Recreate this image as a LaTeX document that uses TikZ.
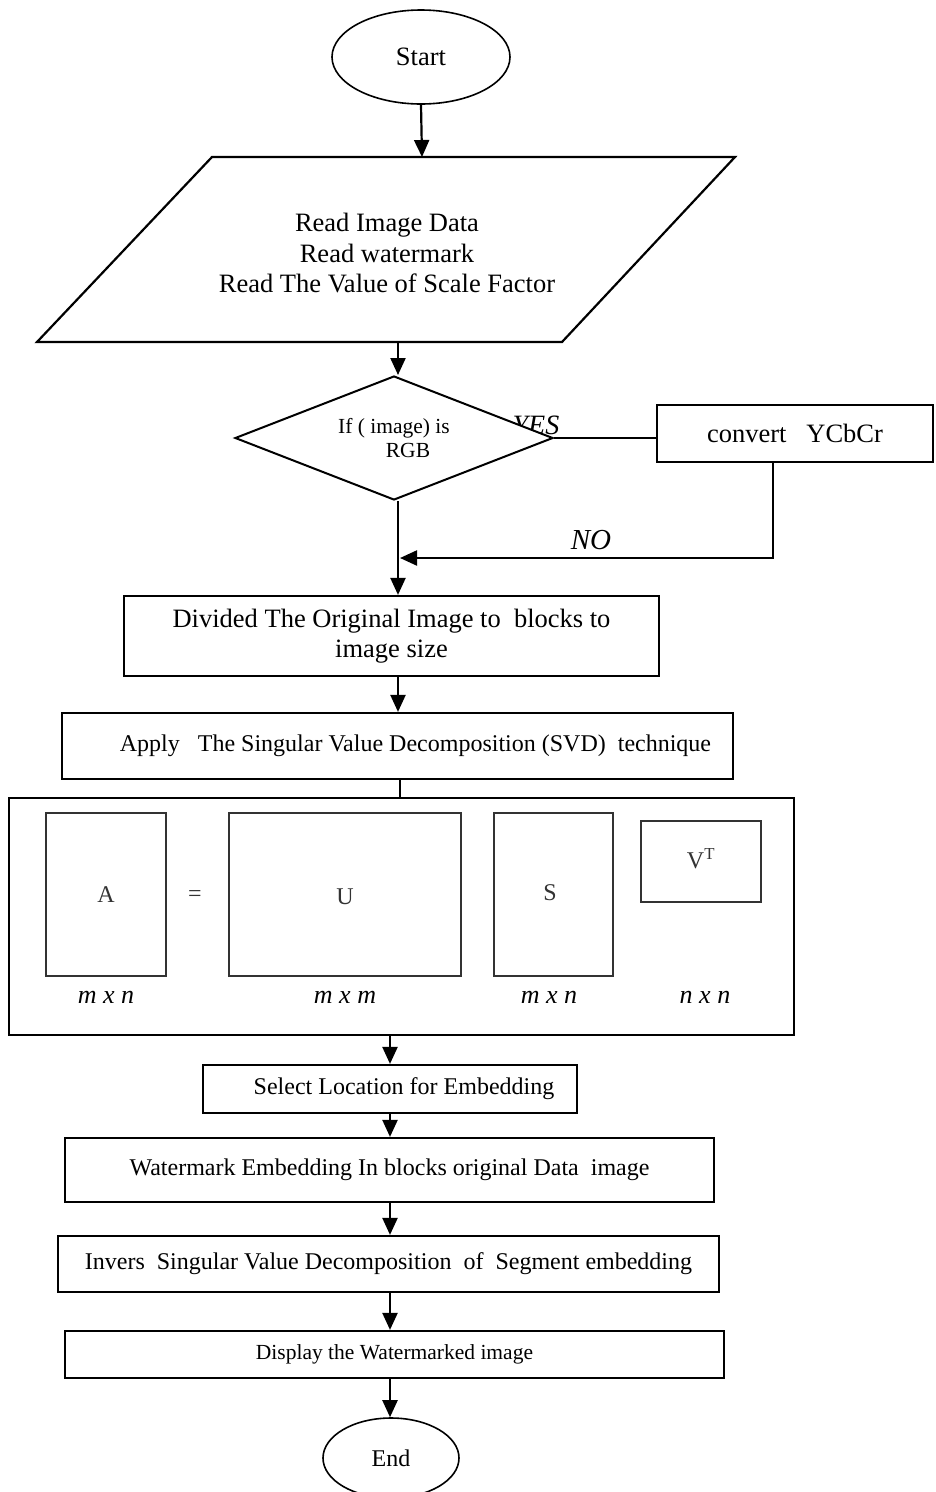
\documentclass[tikz,border=0pt]{standalone}
\usepackage{fontspec}
\setmainfont{Liberation Serif}
\usetikzlibrary{shapes.geometric,arrows.meta}
\begin{document}
\begin{tikzpicture}[x=1pt,y=-1pt,
  line width=2pt,
  box/.style={draw, line width=2.2pt, rectangle, inner sep=0pt, align=center, fill=white},
  oval/.style={draw, line width=1.6pt, ellipse, inner sep=0pt},
  arr/.style={-{Triangle[length=17pt,width=15pt]}, line width=2.2pt},
  conn/.style={line width=2pt},
  big/.style={font=\fontsize{26.5}{30.5}\selectfont},
  mid/.style={font=\fontsize{24}{28}\selectfont},
  small/.style={font=\fontsize{21.5}{24}\selectfont},
  mat/.style={draw=black!80, line width=1.3pt, rectangle, inner sep=0pt},
  matlbl/.style={font=\fontsize{24}{28}\selectfont, text=black!80},
  dimlbl/.style={font=\fontsize{26}{30}\selectfont\itshape}
]
\useasboundingbox (0,0) rectangle (935,1492);

% Start
\node[oval, big, minimum width=178, minimum height=94] (start) at (421,57) {Start};

% Input parallelogram
\draw[line width=2.2pt] (212,157) -- (735,157) -- (562,342) -- (37,342) -- cycle;
\coordinate (readtop) at (422,157);
\coordinate (readbot) at (398,342);
\node[big, align=center] (read) at (387,253) {Read Image Data\\Read watermark\\Read The Value of Scale Factor};

% YES label (partly hidden by the decision shape)
\node[font=\fontsize{28}{30}\selectfont\itshape] (yes) at (536,425) {YES};

% Decision
\node[draw, diamond, fill=white, line width=2pt, aspect=2.6, inner sep=0pt,
      minimum width=318, minimum height=124, small, align=center] (dec) at (394,438)
      {If ( image) is\\\hspace*{28pt}RGB};

% Convert
\node[box, big, minimum width=276, minimum height=57] (conv) at (795,433.5) {convert\ \ \ YCbCr};

% Divided
\node[box, big, minimum width=535, minimum height=80] (div) at (391.5,636)
  {Divided The Original Image to\ \ blocks to\\image size};

% Apply
\node[box, mid, minimum width=671, minimum height=66] (apply) at (397.5,746)
  {\hspace*{36pt}Apply\ \ \ The Singular Value Decomposition (SVD)\ \ technique};

% SVD box
\node[box, minimum width=785, minimum height=237] (svd) at (401.5,916.5) {};
\node[mat, minimum width=120, minimum height=163] (ma) at (106,894.5) {};
\node[matlbl] (la) at (106,895) {A};
\node[matlbl] (eq) at (195,896) {=};
\node[mat, minimum width=232, minimum height=163] (mu) at (345,894.5) {};
\node[matlbl] (lu) at (345,897) {U};
\node[mat, minimum width=119, minimum height=163] (ms) at (553.5,894.5) {};
\node[matlbl] (ls) at (550,893) {S};
\node[mat, minimum width=120, minimum height=81] (mv) at (701,861.5) {};
\node[matlbl] (lv) at (701,859) {V\textsuperscript{T}};
\node[dimlbl] (da) at (106,997) {m x n};
\node[dimlbl] (du) at (345,997) {m x m};
\node[dimlbl] (ds) at (549,997) {m x n};
\node[dimlbl] (dv) at (705,997) {n x n};

% Select
\node[box, mid, minimum width=374, minimum height=48] (sel) at (390,1089)
  {\hspace*{28pt}Select Location for Embedding};

% Watermark embedding
\node[box, mid, minimum width=649, minimum height=64] (emb) at (389.5,1170)
  {Watermark Embedding In blocks original Data\ \ image};

% Inverse
\node[box, mid, minimum width=661, minimum height=56] (inv) at (388.5,1264)
  {\raisebox{5pt}{Invers\ \ Singular Value Decomposition\ \ of\ \ Segment embedding}};

% Display
\node[box, small, minimum width=659, minimum height=47] (disp) at (394.5,1354.5)
  {Display the Watermarked image};

% End
\node[oval, mid, minimum width=136, minimum height=80] (end) at (391,1458) {End};

% Connectors
\draw[arr] (start.south) -- (readtop);
\draw[arr] (readbot) -- (readbot |- dec.north);
\draw[conn] (dec.east) -- (dec.east -| conv.west);
\coordinate (nojoin) at (400,558);
\draw[arr] ([xshift=-22pt]conv.south) |- (nojoin);
\node[font=\fontsize{29}{31}\selectfont\itshape] (no) at (591,540) {NO};
\draw[arr] (readbot |- dec.south) -- (readbot |- div.north);
\draw[arr] (readbot |- div.south) -- (readbot |- apply.north);
\draw[conn] (apply.south -| 400,0) -- (svd.north -| 400,0);
\draw[arr] (svd.south -| 390,0) -- (sel.north -| 390,0);
\draw[arr] (sel.south -| 390,0) -- (emb.north -| 390,0);
\draw[arr] (emb.south -| 390,0) -- (inv.north -| 390,0);
\draw[arr] (inv.south -| 390,0) -- (disp.north -| 390,0);
\draw[arr] (disp.south -| 390,0) -- (end.north -| 390,0);
\end{tikzpicture}
\end{document}
